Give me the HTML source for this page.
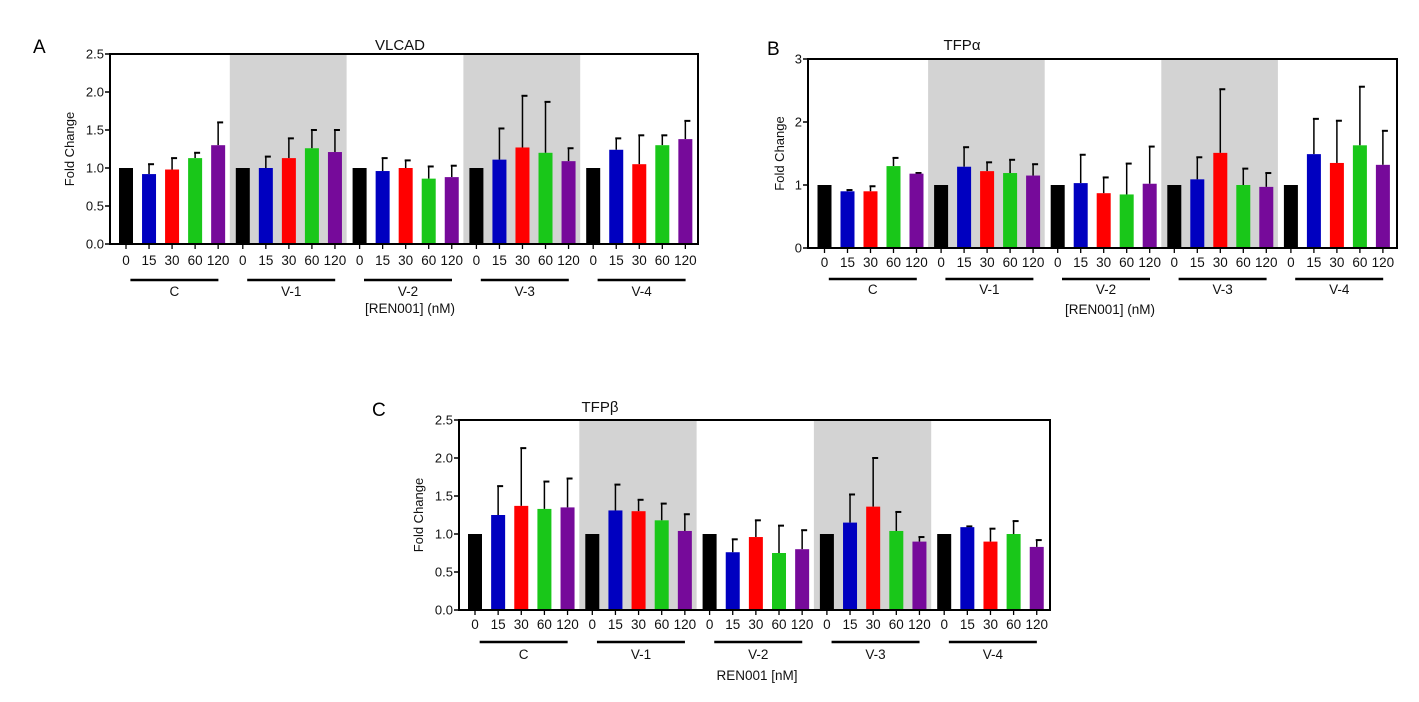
<!DOCTYPE html>
<html><head><meta charset="utf-8">
<style>
html,body{margin:0;padding:0;background:#fff;}
svg{display:block;font-family:"Liberation Sans",sans-serif;}
</style></head>
<body>
<svg id="fig" width="1419" height="702" viewBox="0 0 1419 702">
<text x="33" y="53" font-size="19">A</text>
<text x="767" y="55" font-size="19">B</text>
<text x="372" y="416" font-size="19">C</text>
</svg>
<script>
const groups = ["C","V-1","V-2","V-3","V-4"];
const doses = ["0","15","30","60","120"];
const colors = ["#000000","#0000c0","#ff0000","#19c719","#760a9a"];
// Panel A VLCAD
const vlcadMeans = [1,0.92,0.98,1.13,1.30, 1,1.00,1.13,1.26,1.21, 1,0.96,1.00,0.86,0.88, 1,1.11,1.27,1.20,1.09, 1,1.24,1.05,1.30,1.38];
const vlcadErrTop = [null,1.05,1.13,1.20,1.60, null,1.15,1.39,1.50,1.50, null,1.13,1.10,1.02,1.03, null,1.52,1.95,1.87,1.26, null,1.39,1.43,1.43,1.62];
const vlcadTicks = ["0.0","0.5","1.0","1.5","2.0","2.5"];
// Panel B TFPalpha
const tfpaMeans = [1,0.90,0.90,1.30,1.18, 1,1.29,1.22,1.19,1.15, 1,1.03,0.87,0.85,1.02, 1,1.09,1.51,1.00,0.97, 1,1.49,1.35,1.63,1.32];
const tfpaErrTop = [null,0.92,0.98,1.43,1.19, null,1.60,1.36,1.40,1.33, null,1.48,1.12,1.34,1.61, null,1.44,2.52,1.26,1.19, null,2.05,2.02,2.56,1.86];
const tfpaTicks = ["0","1","2","3"];
// Panel C TFPbeta
const tfpbMeans = [1,1.25,1.37,1.33,1.35, 1,1.31,1.30,1.18,1.04, 1,0.76,0.96,0.75,0.80, 1,1.15,1.36,1.04,0.90, 1,1.09,0.90,1.00,0.83];
const tfpbErrTop = [null,1.63,2.13,1.69,1.73, null,1.65,1.45,1.40,1.26, null,0.93,1.18,1.11,1.05, null,1.52,2.00,1.29,0.96, null,1.10,1.07,1.17,0.92];
const tfpbTicks = ["0.0","0.5","1.0","1.5","2.0","2.5"];

const NS = "http://www.w3.org/2000/svg";
const svg = document.getElementById("fig");
function mk(tag, attrs, parent){
  const e = document.createElementNS(NS, tag);
  for (const k in attrs) e.setAttribute(k, attrs[k]);
  (parent||svg).appendChild(e);
  return e;
}
function panel(p){
  const g = mk("g",{});
  
  
  const ymax = parseFloat(p.ticks[p.ticks.length-1]);
  const y = v => p.bottom - (v/ymax)*(p.bottom-p.top);
  const gx = i => p.gStart + i*p.gW;
  [1,3].forEach(i=>{
    const r = mk("rect",{x:gx(i),y:p.top,width:p.gW,height:p.bottom-p.top,fill:"#d3d3d3"},g);
    
    
  });
  const bw = 14, pitch = p.gW/5.07;
  p.means.forEach((m,k)=>{
    const gi = Math.floor(k/5), di = k%5;
    const bx = gx(gi) + 6 + di*pitch;
    const cx = bx + bw/2;
    if (p.err[k] !== null){
      const l = mk("line",{x1:cx,x2:cx,y1:y(m),y2:y(p.err[k]),stroke:"#000","stroke-width":1.5},g);
      
      
      const c = mk("line",{x1:cx-1,x2:cx+5,y1:y(p.err[k]),y2:y(p.err[k]),stroke:"#000","stroke-width":2},g);
      
      
    }
    const b = mk("rect",{x:bx,y:y(m),width:bw,height:y(0)-y(m),fill:colors[di]},g);
    
    
    const xt = mk("line",{x1:cx,x2:cx,y1:p.bottom,y2:p.bottom+5,stroke:"#000","stroke-width":1.3},g);
    
    
    const t = mk("text",{x:cx,y:p.labY,"font-size":13.5,"text-anchor":"middle",fill:"#111"},g);
    t.textContent = doses[di];
    
    
  });
  groups.forEach((gn,i)=>{
    const c = gx(i)+p.gW/2+3;
    const u = mk("line",{x1:c-44,x2:c+44,y1:p.ulY,y2:p.ulY,stroke:"#000","stroke-width":2.5},g);
    
    
    const t = mk("text",{x:c,y:p.grY,"font-size":13.5,"text-anchor":"middle",fill:"#111"},g);
    t.textContent = gn;
    
    
  });
  const f = mk("rect",{x:p.left,y:p.top,width:p.right-p.left,height:p.bottom-p.top,fill:"none",stroke:"#000","stroke-width":2},g);
  
  
  p.ticks.forEach(tl=>{
    const v = parseFloat(tl);
    const tk = mk("line",{x1:p.left-5,x2:p.left,y1:y(v),y2:y(v),stroke:"#000","stroke-width":1.5},g);
    
    
    const t = mk("text",{x:p.left-6,y:y(v)+4.5,"font-size":13,"text-anchor":"end",fill:"#111"},g);
    t.textContent = tl;
    
    
  });
  const yt = mk("text",{x:0,y:0,"font-size":13,"text-anchor":"middle",fill:"#111",transform:`translate(${p.ytX},${(p.top+p.bottom)/2}) rotate(-90)`},g);
  yt.textContent = "Fold Change";
  
  
  const xt = mk("text",{x:p.xtX,y:p.xtY,"font-size":13.5,"text-anchor":"middle",fill:"#111"},g);
  xt.textContent = p.xTitle;
  
  
  const tt = mk("text",{x:p.titleX,y:p.titleY,"font-size":15,"text-anchor":"middle",fill:"#111"},g);
  tt.textContent = p.title;
  
  
}
panel({name:"panel-a-vlcad",left:110,right:698,top:54,bottom:244,gStart:113,gW:116.8,means:vlcadMeans,err:vlcadErrTop,ticks:vlcadTicks,labY:265,ulY:280,grY:296,ytX:74,xtX:410,xtY:313,xTitle:"[REN001] (nM)",title:"VLCAD",titleX:400,titleY:50});
panel({name:"panel-b-tfpa",left:808,right:1397,top:59,bottom:248,gStart:811.5,gW:116.6,means:tfpaMeans,err:tfpaErrTop,ticks:tfpaTicks,labY:267,ulY:279,grY:294,ytX:784,xtX:1110,xtY:314,xTitle:"[REN001] (nM)",title:"TFP\u03b1",titleX:962,titleY:50});
panel({name:"panel-c-tfpb",left:459,right:1050,top:420,bottom:610,gStart:462,gW:117.3,means:tfpbMeans,err:tfpbErrTop,ticks:tfpbTicks,labY:629,ulY:642,grY:659,ytX:423,xtX:757,xtY:680,xTitle:"REN001 [nM]",title:"TFP\u03b2",titleX:600,titleY:412});
</script>
</body></html>
